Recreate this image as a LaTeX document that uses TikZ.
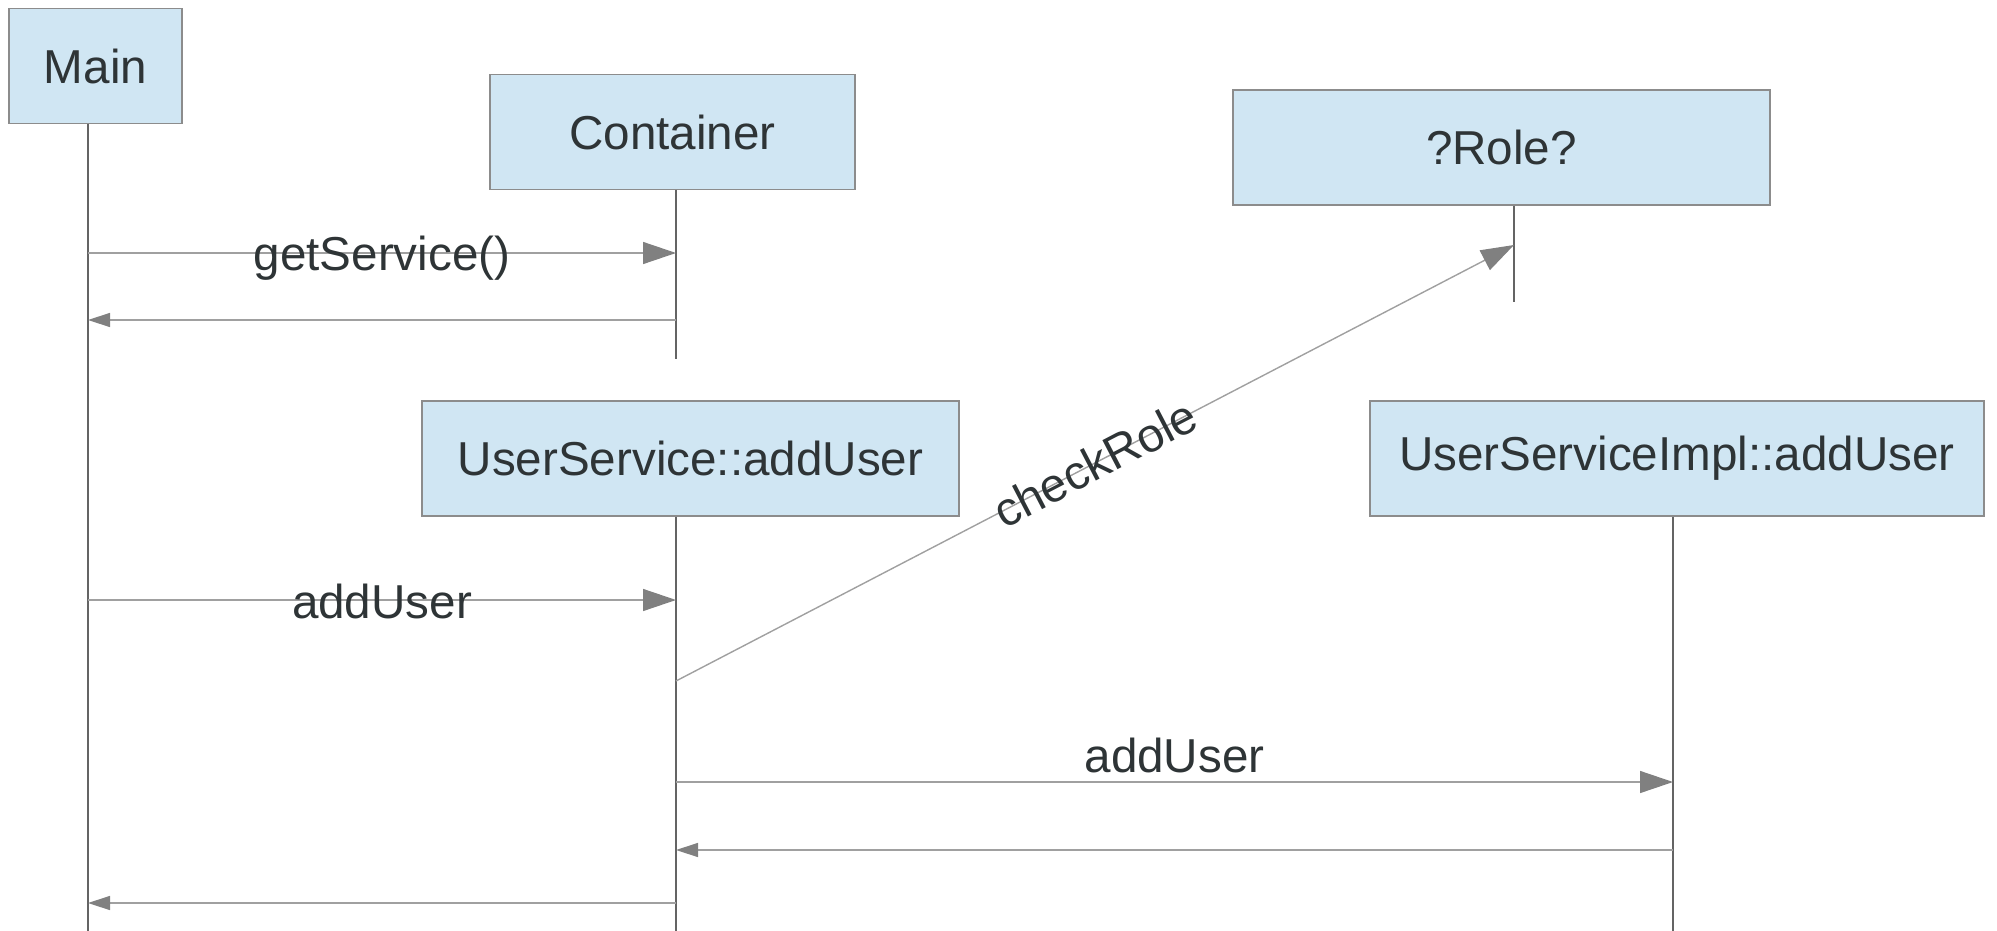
\documentclass[tikz,border=0pt]{standalone}
\usepackage{fontspec}
\setmainfont{Liberation Sans}
\usetikzlibrary{arrows.meta}
\definecolor{boxfill}{RGB}{208,230,243}
\definecolor{boxline}{RGB}{140,140,140}
\definecolor{txt}{RGB}{46,52,54}
\definecolor{lifeclr}{RGB}{100,100,100}
\definecolor{msgclr}{RGB}{160,160,160}
\definecolor{headclr}{RGB}{128,128,128}

\begin{document}
\begin{tikzpicture}[x=0.5pt,y=-0.5pt,
  obj/.style={draw=boxline, line width=0.6pt, fill=boxfill, text=txt,
    font=\fontsize{23.8}{28}\selectfont, inner sep=0pt, minimum height=57.5pt},
  lifeline/.style={draw=lifeclr, line width=1pt},
  call/.style={draw=msgclr, line width=0.7pt,
    -{Triangle[length=16.5pt,width=11pt,color=headclr]}},
  reply/.style={draw=msgclr, line width=0.7pt,
    -{Triangle[length=11pt,width=7pt,color=headclr]}},
  lbl/.style={text=txt, font=\fontsize{23.8}{28}\selectfont, inner sep=0pt}]

\useasboundingbox (0,0) rectangle (1997,931);

% participants
\node[obj, minimum width=86.5pt]  (main)  at (95.5,66)  {Main};
\node[obj, minimum width=182.5pt] (cont)  at (672.5,132)  {Container};
\node[obj, minimum width=268.5pt] (role)  at (1501.5,147.5) {?Role?};
\node[obj, minimum width=268.5pt] (usvc)  at (690.5,458.5) {UserService::addUser};
\node[obj, minimum width=307pt]   (impl)  at (1677,458.5) {UserServiceImpl::addUser};

% lifeline ends
\coordinate (mainTop) at (main.south -| 88,0);
\coordinate (mainBot) at (88,931);
\coordinate (contTop) at (cont.south -| 676,0);
\coordinate (contBot) at (676,359);
\coordinate (roleTop) at (role.south -| 1514,0);
\coordinate (roleBot) at (1514,302);
\coordinate (usvcTop) at (usvc.south -| 676,0);
\coordinate (usvcBot) at (676,931);
\coordinate (implTop) at (impl.south -| 1673,0);
\coordinate (implBot) at (1673,931);

\draw[lifeline] (mainTop) -- (mainBot);
\draw[lifeline] (contTop) -- (contBot);
\draw[lifeline] (roleTop) -- (roleBot);
\draw[lifeline] (usvcTop) -- (usvcBot);
\draw[lifeline] (implTop) -- (implBot);

% message points
\coordinate (m1) at (88,253);   \coordinate (c1) at (676,253);
\coordinate (c2) at (676,320);  \coordinate (m2) at (88,320);
\coordinate (m3) at (88,600);   \coordinate (u3) at (676,600);
\coordinate (u4) at (676,681);  \coordinate (r4) at (1514,245);
\coordinate (u5) at (676,782);  \coordinate (i5) at (1673,782);
\coordinate (i6) at (1673,850); \coordinate (u6) at (676,850);
\coordinate (u7) at (676,903);  \coordinate (m7) at (88,903);

% messages
\draw[call] (m1) -- node[lbl, anchor=base, yshift=-8.5pt] {getService()} (c1);
\draw[reply] (c2) -- (m2);
\draw[call] (m3) -- node[lbl, anchor=base, yshift=-9pt] {addUser} (u3);
\draw[call] (u4) -- node[lbl, sloped] {checkRole} (r4);
\draw[call] (u5) -- node[lbl, anchor=base, yshift=5pt] {addUser} (i5);
\draw[reply] (i6) -- (u6);
\draw[reply] (u7) -- (m7);
\end{tikzpicture}
\end{document}
